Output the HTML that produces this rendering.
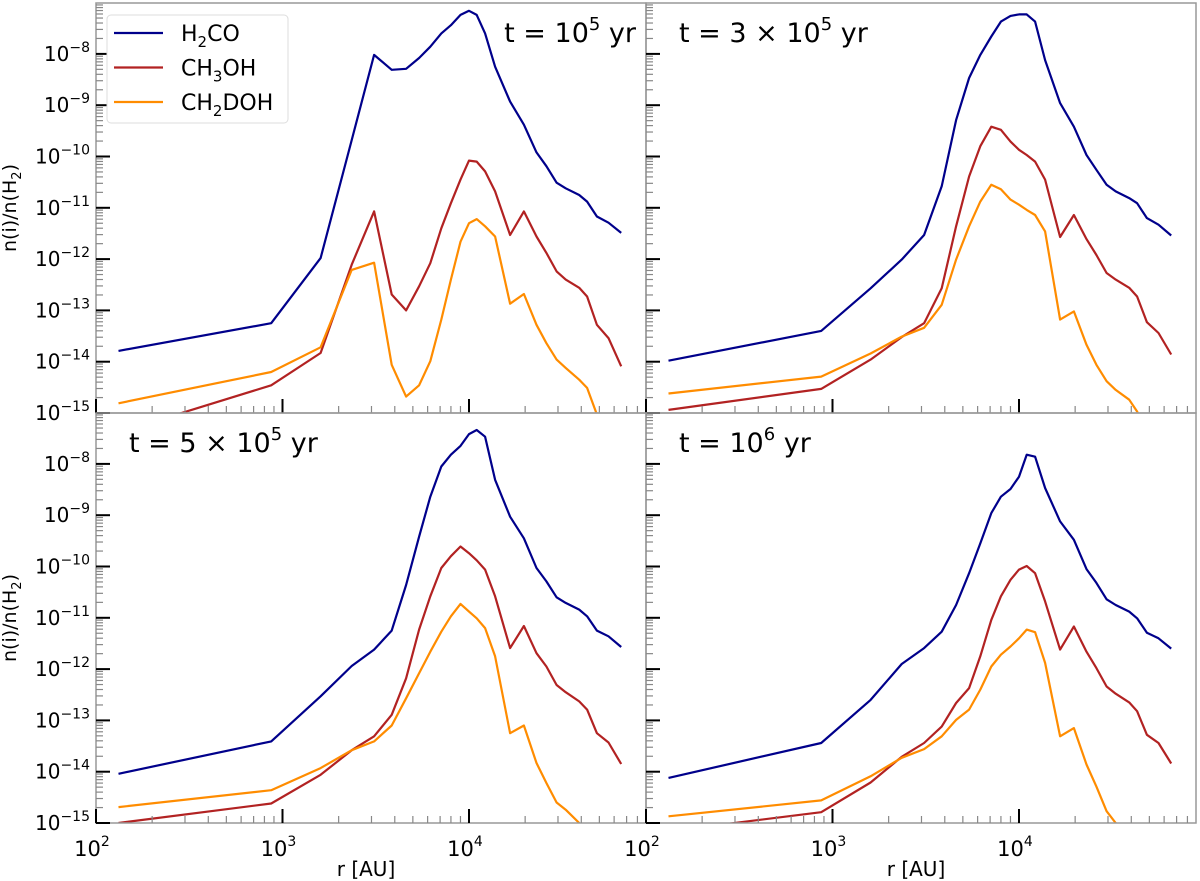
<!DOCTYPE html>
<html><head><meta charset="utf-8">
<style>
html,body{margin:0;padding:0;background:#fff;}
svg{display:block;font-family:"DejaVu Sans","Liberation Sans",sans-serif;}
</style></head>
<body>
<svg id="fig" width="1200" height="881" viewBox="0 0 1200 881" xmlns="http://www.w3.org/2000/svg"></svg>
<script>
// radial grid (AU)
const radii = [132,870,1600,2350,3100,3850,4600,5400,6200,7100,8000,9000,10000,11000,12200,13800,16600,19700,23000,26000,29500,33000,39000,43000,48500,56000,65500];
const panelTitles = ["t = 10|5| yr","t = 3 × 10|5| yr","t = 5 × 10|5| yr","t = 10|6| yr"];
const speciesNames = ["H2CO","CH3OH","CH2DOH"];
// log10 abundances, panel 1 (t=1e5)
const p1_h2co  = [-13.79,-13.25,-11.98,-9.68,-8.02,-8.31,-8.29,-8.08,-7.86,-7.60,-7.44,-7.24,-7.16,-7.24,-7.60,-8.25,-8.93,-9.38,-9.92,-10.19,-10.51,-10.62,-10.75,-10.88,-11.17,-11.29,-11.49];
const p1_ch3oh = [-15.38,-14.46,-13.83,-12.11,-11.07,-12.69,-13.00,-12.53,-12.08,-11.40,-10.91,-10.45,-10.08,-10.10,-10.29,-10.68,-11.53,-11.07,-11.56,-11.88,-12.24,-12.40,-12.56,-12.73,-13.28,-13.54,-14.09];
const p1_ch2doh= [-14.81,-14.20,-13.72,-12.21,-12.07,-14.06,-14.68,-14.46,-13.99,-13.18,-12.40,-11.66,-11.30,-11.22,-11.36,-11.56,-12.87,-12.68,-13.28,-13.64,-13.96,-14.12,-14.35,-14.51,-15.03,-15.5,-16.0];
// panel 2 (t=3e5)
const p2_h2co  = [-13.98,-13.40,-12.57,-12.01,-11.53,-10.58,-9.29,-8.47,-8.02,-7.66,-7.37,-7.26,-7.23,-7.23,-7.37,-8.12,-8.96,-9.42,-9.97,-10.26,-10.55,-10.68,-10.81,-10.91,-11.20,-11.33,-11.54];
const p2_ch3oh = [-14.94,-14.53,-13.96,-13.52,-13.25,-12.57,-11.36,-10.39,-9.80,-9.42,-9.48,-9.71,-9.87,-9.97,-10.10,-10.45,-11.57,-11.14,-11.61,-11.92,-12.27,-12.40,-12.56,-12.73,-13.23,-13.44,-13.86];
const p2_ch2doh= [-14.62,-14.29,-13.84,-13.51,-13.34,-12.89,-12.01,-11.36,-10.88,-10.55,-10.64,-10.84,-10.94,-11.04,-11.14,-11.46,-13.18,-13.02,-13.67,-14.06,-14.38,-14.55,-14.74,-14.97,-15.4,-15.8,-16.2];
// panel 3 (t=5e5)
const p3_h2co  = [-14.04,-13.41,-12.53,-11.94,-11.62,-11.25,-10.36,-9.42,-8.64,-8.05,-7.82,-7.65,-7.42,-7.34,-7.47,-8.31,-9.03,-9.45,-10.03,-10.29,-10.60,-10.71,-10.84,-10.97,-11.25,-11.36,-11.57];
const p3_ch3oh = [-15.00,-14.62,-14.06,-13.58,-13.31,-12.89,-12.18,-11.23,-10.58,-10.03,-9.80,-9.61,-9.74,-9.88,-10.06,-10.58,-11.59,-11.16,-11.69,-11.95,-12.31,-12.45,-12.63,-12.79,-13.25,-13.43,-13.85];
const p3_ch2doh= [-14.69,-14.36,-13.93,-13.58,-13.41,-13.10,-12.57,-12.08,-11.66,-11.27,-10.97,-10.73,-10.88,-11.01,-11.20,-11.75,-13.25,-13.10,-13.83,-14.22,-14.60,-14.74,-15.00,-15.2,-15.5,-15.8,-16.1];
// panel 4 (t=1e6)
const p4_h2co  = [-14.12,-13.44,-12.60,-11.90,-11.59,-11.27,-10.75,-10.13,-9.55,-8.96,-8.64,-8.49,-8.25,-7.82,-7.86,-8.47,-9.12,-9.48,-10.05,-10.32,-10.64,-10.75,-10.88,-11.01,-11.29,-11.40,-11.60];
const p4_ch3oh = [-15.16,-14.79,-14.21,-13.71,-13.44,-13.12,-12.66,-12.37,-11.75,-11.04,-10.58,-10.26,-10.06,-9.99,-10.13,-10.68,-11.62,-11.17,-11.66,-11.98,-12.34,-12.48,-12.65,-12.82,-13.28,-13.44,-13.84];
const p4_ch2doh= [-14.87,-14.56,-14.09,-13.73,-13.56,-13.31,-12.99,-12.79,-12.40,-11.95,-11.72,-11.56,-11.40,-11.23,-11.28,-11.88,-13.31,-13.15,-13.86,-14.29,-14.77,-15.0,-15.3,-15.5,-15.8,-16.1,-16.4];
const xTickLabels = ["2","3","4"];
const yTickLabels = ["-8","-9","-10","-11","-12","-13","-14","-15"];

const panelSeries = [[p1_h2co,p1_ch3oh,p1_ch2doh],[p2_h2co,p2_ch3oh,p2_ch2doh],[p3_h2co,p3_ch3oh,p3_ch2doh],[p4_h2co,p4_ch3oh,p4_ch2doh]];
const colors = ["#00008b","#b22222","#ff8c00"];
const NS = "http://www.w3.org/2000/svg";
const svg = document.getElementById("fig");
function mk(tag, attrs, parent){const e=document.createElementNS(NS,tag);for(const k in attrs)e.setAttribute(k,attrs[k]);(parent||svg).appendChild(e);return e;}

const PW=550, PH=410, DEC=186.5, YMIN=-15, YDEC=51.3;
const panels=[{x:96,y:3},{x:646,y:3},{x:96,y:413},{x:646,y:413}];
function xs(p,r){return p.x+(Math.log10(r)-2)*DEC;}
function ys(p,l){return p.y+PH-(l-YMIN)*YDEC;}

const defs=mk("defs",{});
panels.forEach((p,i)=>{
  const cp=mk("clipPath",{id:"clip"+i},defs);
  mk("rect",{x:p.x,y:p.y,width:PW,height:PH},cp);
});

panels.forEach((p,i)=>{
  const g=mk("g",{});
  
  
  const sg=mk("g",{"clip-path":"url(#clip"+i+")"},g);
  panelSeries[i].forEach((vals,s)=>{
    const d=vals.map((v,k)=>(k?"L":"M")+xs(p,radii[k]).toFixed(1)+","+ys(p,v).toFixed(1)).join("");
    const path=mk("path",{d:d,fill:"none",stroke:colors[s],"stroke-width":2.2,"stroke-linejoin":"round"},sg);
    
    
  });
  const fr=mk("rect",{x:p.x,y:p.y,width:PW,height:PH,fill:"none",stroke:"#999","stroke-width":1.5},g);
  
  
  for(let dec=2;dec<=4;dec++){
    for(let m=1;m<=9;m++){
      const r=m*Math.pow(10,dec);const x=xs(p,r);
      if(x>p.x+PW)continue;
      const major=m===1;
      mk("line",{x1:x,x2:x,y1:p.y+PH,y2:p.y+PH-(major?14:7),stroke:major?"#000":"#888","stroke-width":major?2:1.2},g);
    }
  }
  for(let e=-15;e<=-8;e++){
    for(let m=1;m<=9;m++){
      const l=e+Math.log10(m);const y=ys(p,l);
      if(y<p.y)continue;
      const major=m===1;
      mk("line",{x1:p.x,x2:p.x+(major?14:7),y1:y,y2:y,stroke:major?"#000":"#888","stroke-width":major?2:1.2},g);
    }
  }
  if(p.x<100){
    yTickLabels.forEach(lab=>{
      const y=ys(p,parseFloat(lab));
      const t=mk("text",{x:p.x-6,y:y+7,"font-size":20,"text-anchor":"end",fill:"#000"},g);
      t.appendChild(document.createTextNode("10"));
      const s=mk("tspan",{"font-size":14,dy:-9},t);s.textContent=lab.replace("-","−");
      
      
    });
    const yl=mk("text",{transform:"translate(16,"+(p.y+PH/2)+") rotate(-90)","font-size":19,"text-anchor":"middle"},g);
    yl.innerHTML='n(i)/n(H<tspan font-size="13" dy="5">2</tspan><tspan dy="-5">)</tspan>';
    
    
  }
  if(p.y>400){
    xTickLabels.forEach(lab=>{
      const x=xs(p,Math.pow(10,parseFloat(lab)));
      const t=mk("text",{x:x-4,y:p.y+PH+33,"font-size":21,"text-anchor":"middle"},g);
      t.appendChild(document.createTextNode("10"));
      const s=mk("tspan",{"font-size":14,dy:-10},t);s.textContent=lab;
      
      
    });
    const xl=mk("text",{x:p.x+PW/2-5,y:876,"font-size":20,"text-anchor":"middle"},g);
    xl.textContent="r [AU]";
    
    
  }
  const parts=panelTitles[i].split("|");
  const tx = i===0 ? p.x+PW-10 : p.x+33;
  const tt=mk("text",{x:tx,y:p.y+39,"font-size":27,"text-anchor":i===0?"end":"start"},g);
  tt.appendChild(document.createTextNode(parts[0]));
  const sp=mk("tspan",{"font-size":18,dy:-12},tt);sp.textContent=parts[1];
  const sp2=mk("tspan",{dy:12},tt);sp2.textContent=parts[2];
  
  
});

const lg=mk("g",{});


mk("rect",{x:107,y:15,width:181,height:108,rx:4,fill:"#fff",stroke:"#ddd","stroke-width":1},lg);
const legLabels=['H<tspan font-size="15" dy="6">2</tspan><tspan dy="-6">CO</tspan>','CH<tspan font-size="15" dy="6">3</tspan><tspan dy="-6">OH</tspan>','CH<tspan font-size="15" dy="6">2</tspan><tspan dy="-6">DOH</tspan>'];
speciesNames.forEach((n,s)=>{
  const y=33+s*34.5;
  const e=mk("g",{},lg);
  
  
  mk("line",{x1:114,x2:163,y1:y,y2:y,stroke:colors[s],"stroke-width":2.2},e);
  const t=mk("text",{x:181,y:y+8,"font-size":22},e);
  t.innerHTML=legLabels[s];
});
</script>
</body></html>
